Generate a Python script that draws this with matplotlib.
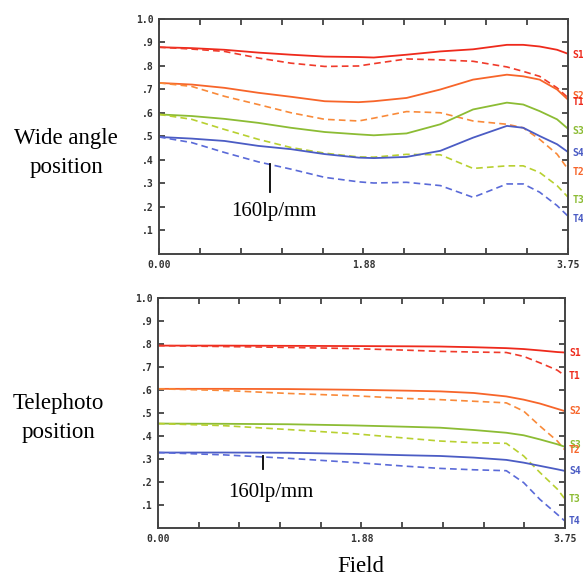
"""
MTF curves - wide angle and telephoto positions (160 lp/mm)
"""
import numpy as np
import matplotlib.pyplot as plt

# field positions (mm) for the wide-angle curves
wide_x = [0, 0.3, 0.6, 0.91, 1.21, 1.52, 1.83, 1.97, 2.27, 2.58, 2.88, 3.19, 3.34, 3.49, 3.65, 3.75]
wide_curves = {
    'S1': [.880, .876, .869, .857, .848, .840, .838, .836, .848, .862, .871, .890, .890, .883, .869, .852],
    'T1': [.880, .872, .862, .834, .812, .798, .800, .810, .830, .826, .820, .796, .777, .756, .707, .665],
    'S2': [.728, .721, .707, .686, .669, .650, .646, .650, .664, .700, .742, .763, .756, .742, .700, .657],
    'T2': [.728, .713, .671, .636, .601, .573, .566, .578, .606, .601, .566, .552, .537, .488, .425, .361],
    'S3': [.594, .587, .575, .558, .537, .519, .509, .505, .513, .552, .615, .644, .636, .608, .573, .533],
    'T3': [.594, .573, .530, .488, .453, .429, .413, .412, .424, .422, .364, .375, .375, .347, .291, .242],
    'S4': [.498, .491, .481, .460, .446, .425, .410, .408, .413, .439, .495, .545, .537, .502, .467, .434],
    'T4': [.498, .474, .432, .392, .361, .326, .307, .302, .305, .291, .241, .298, .298, .263, .206, .161],
}

# field positions (mm) for the telephoto curves
tele_x = [0, 0.6, 1.2, 1.8, 2.3, 2.6, 2.91, 3.21, 3.37, 3.52, 3.68, 3.75]
tele_curves = {
    'S1': [.793, .793, .792, .791, .790, .789, .786, .782, .778, .772, .765, .763],
    'T1': [.793, .789, .785, .780, .773, .768, .765, .763, .746, .718, .686, .662],
    'S2': [.605, .605, .604, .601, .597, .594, .587, .572, .558, .541, .518, .508],
    'T2': [.605, .598, .585, .575, .563, .558, .551, .544, .508, .443, .378, .339],
    'S3': [.454, .453, .451, .446, .440, .436, .426, .414, .403, .385, .364, .353],
    'T3': [.454, .445, .428, .410, .390, .378, .371, .368, .313, .241, .169, .126],
    'S4': [.328, .328, .327, .322, .316, .313, .306, .296, .284, .270, .255, .248],
    'T4': [.328, .318, .303, .285, .268, .259, .253, .249, .197, .124, .059, .030],
}

# labels at the right edge, value where each one sits
wide_labels = ['S1', 'S2', 'T1', 'S3', 'S4', 'T2', 'T3', 'T4']
wide_label_y = [.845, .672, .648, .525, .430, .350, .230, .150]
tele_labels = ['S1', 'T1', 'S2', 'S3', 'T2', 'S4', 'T3', 'T4']
tele_label_y = [.763, .662, .508, .362, .338, .248, .126, .030]

colors = {'1': '#ee2a1c', '2': '#f7652a', '3': '#8cbc34', '4': '#4b5cc4'}
dash_colors = {'1': '#f03a2a', '2': '#f98a3a', '3': '#b8d030', '4': '#5a6ad8'}

y_ticks = [0.1 * i for i in range(1, 11)]
y_tick_labels = ['.1', '.2', '.3', '.4', '.5', '.6', '.7', '.8', '.9', '1.0']
x_ticks = [0.375 * i for i in range(11)]
x_tick_labels = ['0.00', '', '', '', '', '1.88', '', '', '', '', '3.75']


def draw_panel(ax, xs, curves, labels, label_y):
    for name, vals in curves.items():
        n = name[1]
        if name[0] == 'S':
            ax.plot(xs, vals, color=colors[n], lw=1.3, solid_joinstyle='round')
        else:
            ax.plot(xs, vals, color=dash_colors[n], lw=1.2, dashes=(4, 2.5))
    for lab, yv in zip(labels, label_y):
        ax.annotate(lab, xy=(1.0, yv), xycoords=('axes fraction', 'data'),
                    xytext=(3, 0), textcoords='offset points',
                    color=colors[lab[1]], fontsize=7, fontweight='bold',
                    family='DejaVu Sans Mono', va='center', ha='left',
                    annotation_clip=False)
    ax.set_xlim(0, 3.75)
    ax.set_ylim(0, 1.0)
    ax.set_yticks(y_ticks)
    ax.set_yticklabels(y_tick_labels)
    ax.set_xticks(x_ticks)
    ax.set_xticklabels(x_tick_labels)
    ax.tick_params(direction='in', length=4, width=1.2,
                   top=True, right=True, labelsize=7, color='#333333',
                   pad=4)
    for lab in ax.get_xticklabels() + ax.get_yticklabels():
        lab.set_family('DejaVu Sans Mono')
        lab.set_fontweight('bold')
        lab.set_color('#333333')
    for sp in ax.spines.values():
        sp.set_linewidth(1.4)
        sp.set_color('#444444')


fig = plt.figure(figsize=(5.83, 5.72), dpi=100)
ax_top = fig.add_axes([0.2727, 0.556, 0.7015, 0.4108])
ax_bot = fig.add_axes([0.271, 0.077, 0.698, 0.402])

draw_panel(ax_top, wide_x, wide_curves, wide_labels, wide_label_y)
draw_panel(ax_bot, tele_x, tele_curves, tele_labels, tele_label_y)

serif = 'Liberation Serif'
fig.text(66 / 583, 1 - 153 / 572, 'Wide angle\nposition', ha='center', va='center',
         family=serif, fontsize=16.5, linespacing=1.55)
fig.text(58 / 583, 1 - 418 / 572, 'Telephoto\nposition', ha='center', va='center',
         family=serif, fontsize=16.5, linespacing=1.55)
fig.text(361 / 583, 1 - 566 / 572, 'Field', ha='center', va='center',
         family=serif, fontsize=16.5)

# 160lp/mm pointers
ax_top.plot([1.02, 1.02], [0.385, 0.265], color='black', lw=1.3)
ax_top.text(1.05, 0.18, '160lp/mm', ha='center', va='center', family=serif, fontsize=15)
ax_bot.plot([0.97, 0.97], [0.312, 0.258], color='black', lw=1.3)
ax_bot.text(1.04, 0.155, '160lp/mm', ha='center', va='center', family=serif, fontsize=15)

fig.savefig('out.png', dpi=100)
